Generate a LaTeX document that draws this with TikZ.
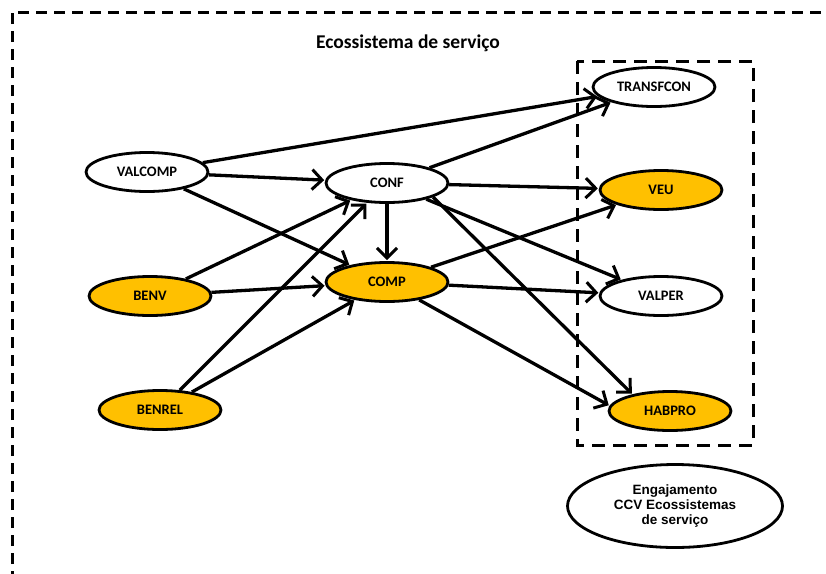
\documentclass[tikz,border=0pt]{standalone}
\usepackage{fontspec}
\setmainfont{Carlito}
\newfontfamily\arialfont{Liberation Sans}
\usetikzlibrary{shapes.geometric,arrows.meta}
\definecolor{gold}{HTML}{FFC000}
\tikzset{
  construct/.style={ellipse, draw=black, line width=2.8pt, fill=white,
    minimum width=122pt, minimum height=39pt, inner sep=0pt,
    font=\fontsize{14.5}{14.5}\selectfont\bfseries},
  hilite/.style={construct, fill=gold},
  path/.style={line width=3.3pt, -{Straight Barb[length=10pt,width=20pt,line width=3pt]}, shorten >=1pt},
  frame/.style={line width=3pt, dash pattern=on 11pt off 7pt},
}
\begin{document}
\begin{tikzpicture}[x=1pt,y=-1pt]
\useasboundingbox (0,0) rectangle (826,573);
\fill[white] (0,0) rectangle (826,573);

% outer frame of the service ecosystem
\draw[frame] (12,600) -- (12,12) -- (850,12);
\node[font=\fontsize{19.5}{19.5}\selectfont\bfseries] (title) at (408,43) {Ecossistema de serviço};

% inner frame around the engagement constructs
\draw[frame, dash pattern=on 13pt off 8pt] (577,61) rectangle (753,445);

% constructs
\node[construct] (valcomp) at (147,172) {VALCOMP};
\node[construct] (conf)    at (387,183) {CONF};
\node[hilite]    (comp)    at (387,282) {COMP};
\node[hilite]    (benv)    at (150,296) {BENV};
\node[hilite]    (benrel)  at (160,410) {BENREL};
\node[construct] (transf)  at (654,87)  {TRANSFCON};
\node[hilite]    (veu)     at (661,190) {VEU};
\node[construct] (valper)  at (661,296) {VALPER};
\node[hilite]    (habpro)  at (670,411) {HABPRO};

% legend
\node[ellipse, draw=black, line width=2.8pt, minimum width=215pt, minimum height=83pt,
      inner sep=0pt, align=center, font=\arialfont\fontsize{13.5}{15}\selectfont\bfseries]
      (eng) at (675,506) {Engajamento\\CCV Ecossistemas\\de serviço};

% paths
\draw[path] (valcomp) -- (transf);
\draw[path] (valcomp) -- (conf);
\draw[path] (valcomp) -- (comp);
\draw[path] (conf) -- (transf);
\draw[path] (conf) -- (veu);
\draw[path] (conf) -- (valper);
\draw[path] (conf.-17) -- (habpro.156);
\draw[path] (conf) -- (comp);
\draw[path] (benv) -- (conf);
\draw[path] (benv) -- (comp);
\draw[path] (benrel) -- (conf);
\draw[path] (benrel) -- (comp);
\draw[path] (comp) -- (veu);
\draw[path] (comp) -- (valper);
\draw[path] (comp) -- (habpro.175);
\end{tikzpicture}
\end{document}
